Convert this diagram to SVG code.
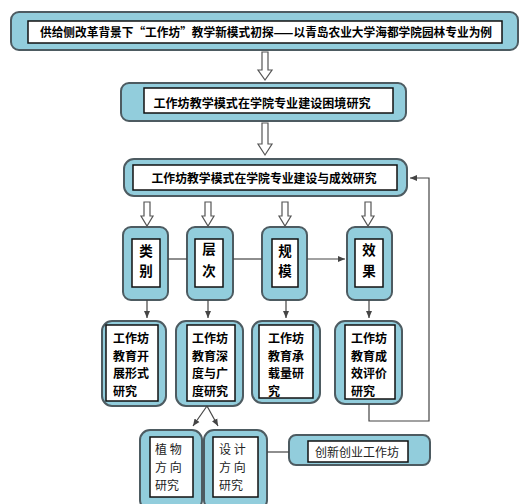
<svg xmlns="http://www.w3.org/2000/svg" width="530" height="504" viewBox="0 0 530 504">
<defs>
<style>
.outer{fill:#92cddc;stroke:#4d5b61;stroke-width:2}
.inner{fill:#ffffff;stroke:#111;stroke-width:1.5}
.t{font-family:"Noto Sans CJK SC","Liberation Sans",sans-serif;font-weight:bold;fill:#000}
.r{font-family:"Noto Sans CJK SC","Liberation Sans",sans-serif;font-weight:normal;fill:#222}
.ln{fill:none;stroke:#444;stroke-width:1.2}
.ha{fill:#fff;stroke:#555;stroke-width:1.2}
</style>
<marker id="ah" markerWidth="8" markerHeight="8" refX="7" refY="4" orient="auto" markerUnits="userSpaceOnUse">
<path d="M0,1 L7,4 L0,7 Z" fill="#444"/>
</marker>
</defs>
<rect width="530" height="504" fill="#fff"/>

<g id="title">
<rect class="outer" x="11" y="12" width="507" height="38" rx="8"/>
<rect class="inner" x="28" y="21" width="474" height="22"/>
<text class="t" x="266" y="36.5" font-size="12" text-anchor="middle" textLength="452" lengthAdjust="spacingAndGlyphs">供给侧改革背景下“工作坊”教学新模式初探——以青岛农业大学海都学院园林专业为例</text>
</g>

<g id="dilemma">
<rect class="outer" x="121" y="83" width="285" height="38" rx="8"/>
<rect class="inner" x="144" y="88" width="249" height="25"/>
<text class="t" x="262" y="107.5" font-size="12" text-anchor="middle" textLength="217" lengthAdjust="spacingAndGlyphs">工作坊教学模式在学院专业建设困境研究</text>
</g>

<g id="effect-research">
<rect class="outer" x="124" y="159" width="283" height="37" rx="10"/>
<rect class="inner" x="133" y="165" width="264" height="25"/>
<text class="t" x="264" y="182.5" font-size="12" text-anchor="middle" textLength="225" lengthAdjust="spacingAndGlyphs">工作坊教学模式在学院专业建设与成效研究</text>
</g>

<g id="leibie">
<rect class="outer" x="123" y="227" width="45" height="73" rx="8"/>
<rect class="inner" x="132" y="239" width="28" height="48"/>
<text class="t" x="146" y="256" font-size="13.5" text-anchor="middle">类</text>
<text class="t" x="146" y="276" font-size="13.5" text-anchor="middle">别</text>
</g>
<g id="cengci">
<rect class="outer" x="187" y="227" width="46" height="73" rx="8"/>
<rect class="inner" x="195" y="239" width="28" height="48"/>
<text class="t" x="209" y="254" font-size="13.5" text-anchor="middle">层</text>
<text class="t" x="209" y="276" font-size="13.5" text-anchor="middle">次</text>
</g>
<g id="guimo">
<rect class="outer" x="262" y="227" width="45" height="73" rx="8"/>
<rect class="inner" x="272" y="239" width="26" height="48"/>
<text class="t" x="285" y="256" font-size="13.5" text-anchor="middle">规</text>
<text class="t" x="285" y="276" font-size="13.5" text-anchor="middle">模</text>
</g>
<g id="xiaoguo">
<rect class="outer" x="347" y="227" width="45" height="73" rx="8"/>
<rect class="inner" x="355" y="239" width="28" height="48"/>
<text class="t" x="369" y="255" font-size="13.5" text-anchor="middle">效</text>
<text class="t" x="369" y="276" font-size="13.5" text-anchor="middle">果</text>
</g>

<g id="form-research">
<rect class="outer" x="102" y="321" width="64" height="85" rx="10"/>
<rect class="inner" x="106" y="325" width="52" height="76"/>
<text class="t" font-size="12" x="113" y="343">工作坊</text>
<text class="t" font-size="12" x="113" y="360.5">教育开</text>
<text class="t" font-size="12" x="113" y="378">展形式</text>
<text class="t" font-size="12" x="113" y="395.5">研究</text>
</g>
<g id="depth-research">
<rect class="outer" x="176" y="321" width="67" height="85" rx="10"/>
<rect class="inner" x="187" y="325" width="48" height="76"/>
<text class="t" font-size="12" x="192" y="343">工作坊</text>
<text class="t" font-size="12" x="192" y="360.5">教育深</text>
<text class="t" font-size="12" x="192" y="378">度与广</text>
<text class="t" font-size="12" x="192" y="395.5">度研究</text>
</g>
<g id="capacity-research">
<rect class="outer" x="252" y="321" width="68" height="82" rx="10"/>
<rect class="inner" x="259" y="325" width="54" height="73"/>
<text class="t" font-size="12" x="268" y="343">工作坊</text>
<text class="t" font-size="12" x="268" y="360.5">教育承</text>
<text class="t" font-size="12" x="268" y="378">载量研</text>
<text class="t" font-size="12" x="268" y="395.5">究</text>
</g>
<g id="evaluation-research">
<rect class="outer" x="335" y="321" width="67" height="83" rx="10"/>
<rect class="inner" x="345" y="325" width="50" height="74"/>
<text class="t" font-size="12" x="351" y="343">工作坊</text>
<text class="t" font-size="12" x="351" y="360.5">教育成</text>
<text class="t" font-size="12" x="351" y="378">效评价</text>
<text class="t" font-size="12" x="351" y="395.5">研究</text>
</g>

<g id="plant">
<rect class="outer" x="140" y="430" width="62" height="80" rx="10"/>
<rect class="inner" x="150" y="437" width="43" height="60"/>
<text class="r" font-size="12" x="155" y="454" xml:space="preserve">植 物</text>
<text class="r" font-size="12" x="155" y="472" xml:space="preserve">方 向</text>
<text class="r" font-size="12" x="155" y="490">研究</text>
</g>
<g id="design">
<rect class="outer" x="204" y="430" width="63" height="80" rx="10"/>
<rect class="inner" x="213" y="437" width="45" height="60"/>
<text class="r" font-size="12" x="219" y="454" xml:space="preserve">设 计</text>
<text class="r" font-size="12" x="219" y="472" xml:space="preserve">方 向</text>
<text class="r" font-size="12" x="219" y="490">研究</text>
</g>
<g id="innovation">
<rect class="outer" x="289" y="435" width="141" height="30" rx="7"/>
<rect class="inner" x="308" y="441" width="100" height="21"/>
<text class="r" font-size="12" x="357" y="456.5" text-anchor="middle">创新创业工作坊</text>
</g>

<g id="connectors">
<path class="ha" d="M262,52 H268 V70 H272 L265,80 L258,70 H262 Z"/>
<path class="ha" d="M262,123 H268 V144 H272 L265,155 L258,144 H262 Z"/>
<path class="ha" d="M144,202 H150 V216 H153 L147,226 L141,216 H144 Z"/>
<path class="ha" d="M205,202 H211 V216 H214 L208,226 L202,216 H205 Z"/>
<path class="ha" d="M282,202 H288 V216 H291 L285,226 L279,216 H282 Z"/>
<path class="ha" d="M365,202 H371 V216 H374 L368,226 L362,216 H365 Z"/>
<path class="ln" d="M168,259 H187"/>
<path class="ln" d="M233,259 H262"/>
<path class="ln" d="M307,259 H345" marker-end="url(#ah)"/>
<path class="ln" d="M147,300 V318" marker-end="url(#ah)"/>
<path class="ln" d="M208,300 V318" marker-end="url(#ah)"/>
<path class="ln" d="M286,300 V318" marker-end="url(#ah)"/>
<path class="ln" d="M369,300 V318" marker-end="url(#ah)"/>
<path class="ln" d="M207,406 L193,426" marker-end="url(#ah)"/>
<path class="ln" d="M207,406 L218,426" marker-end="url(#ah)"/>
<path class="ln" d="M267,452 H289"/>
<path class="ln" d="M369,404 V421 H429 V178 H410" marker-end="url(#ah)"/>
</g>
</svg>
